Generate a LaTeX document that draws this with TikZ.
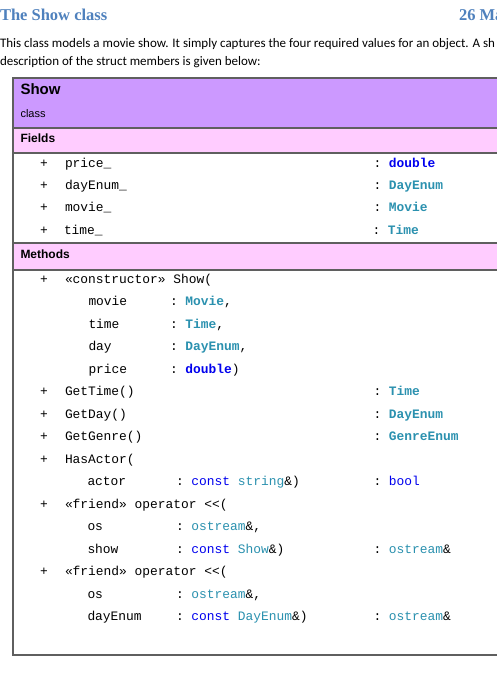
\documentclass[tikz,border=0pt]{standalone}
\usepackage{fontspec}
\setmainfont{Carlito}
\newfontfamily\headfont{Liberation Serif}
\newfontfamily\umlfont{Liberation Sans}
\setmonofont{Liberation Mono}
\definecolor{headblue}{RGB}{79,129,189}
\definecolor{classpurple}{RGB}{204,153,255}
\definecolor{bandpink}{RGB}{255,204,255}
\definecolor{framegray}{RGB}{95,95,95}
\definecolor{kwblue}{RGB}{0,0,238}
\definecolor{typeteal}{RGB}{43,145,175}
\tikzset{
  txt/.style={anchor=base west, inner sep=0pt, outer sep=0pt},
  heading/.style={txt, font=\headfont\bfseries\fontsize{16.5}{19}\selectfont, text=headblue},
  bodytext/.style={txt, font=\fontsize{13}{15}\selectfont},
  classname/.style={txt, font=\umlfont\bfseries\fontsize{15}{18}\selectfont},
  classkind/.style={txt, font=\umlfont\fontsize{11}{13}\selectfont},
  bandtitle/.style={txt, font=\umlfont\bfseries\fontsize{12}{14}\selectfont},
  code/.style={txt, font=\ttfamily\fontsize{12.9}{15}\selectfont},
  frame/.style={draw=framegray, line width=1.5pt}
}
\newcommand{\kw}[1]{\textcolor{kwblue}{#1}}
\newcommand{\ty}[1]{\textcolor{typeteal}{#1}}

\begin{document}
\begin{tikzpicture}[x=1pt, y=-1pt]
  \clip (0,0) rectangle (497,689);
  \fill[white] (0,0) rectangle (497,689);

  % page heading and intro text
  \node[heading] (title) at (0,20) {The Show class};
  \node[heading] (date) at (459,20) {26 Ma};
  \node[bodytext] (intro1) at (0,47) {This class models a movie show. It simply captures the four required values for an object. A sh};
  \node[bodytext] (intro2) at (0,65.5) {description of the struct members is given below:};

  % class box
  \fill[classpurple] (13,78) rectangle (520,128);
  \fill[bandpink] (13,128) rectangle (520,153);
  \fill[bandpink] (13,243) rectangle (520,270);
  \draw[frame] (13,128) -- (520,128);
  \draw[frame] (13,153) -- (520,153);
  \draw[frame] (13,243) -- (520,243);
  \draw[frame] (13,270) -- (520,270);
  \draw[frame] (13,78) rectangle (520,655);

  \node[classname] (show) at (20.5,94) {Show};
  \node[classkind] (kind) at (20.5,117.5) {class};
  \node[bandtitle] (fields) at (20.5,142.5) {Fields};
  \node[bandtitle] (methods) at (20.5,258.5) {Methods};

  % fields
  \node[code] (f1p) at (40,167) {+};
  \node[code] (f1n) at (65,167) {price\_};
  \node[code] (f1t) at (373.5,167) {: \kw{\bfseries double}};
  \node[code] (f2p) at (40,189.4) {+};
  \node[code] (f2n) at (65,189.4) {dayEnum\_};
  \node[code] (f2t) at (373.5,189.4) {: \ty{\bfseries DayEnum}};
  \node[code] (f3p) at (40,211.8) {+};
  \node[code] (f3n) at (65,211.8) {movie\_};
  \node[code] (f3t) at (373.5,211.8) {: \ty{\bfseries Movie}};
  \node[code] (f4p) at (40,234.2) {+};
  \node[code] (f4n) at (64,234.2) {time\_};
  \node[code] (f4t) at (372.5,234.2) {: \ty{\bfseries Time}};

  % constructor
  \node[code] (m1p) at (40,283) {+};
  \node[code] (m1n) at (65,283) {«constructor» Show(};
  \node[code] (c1n) at (88.5,305.5) {movie};
  \node[code] (c1t) at (170,305.5) {: \ty{\bfseries Movie},};
  \node[code] (c2n) at (88.5,328) {time};
  \node[code] (c2t) at (170,328) {: \ty{\bfseries Time},};
  \node[code] (c3n) at (88.5,350.5) {day};
  \node[code] (c3t) at (170,350.5) {: \ty{\bfseries DayEnum},};
  \node[code] (c4n) at (88.5,373) {price};
  \node[code] (c4t) at (170,373) {: \kw{\bfseries double})};

  % getters
  \node[code] (m2p) at (40,395.5) {+};
  \node[code] (m2n) at (65,395.5) {GetTime()};
  \node[code] (m2t) at (373.5,395.5) {: \ty{\bfseries Time}};
  \node[code] (m3p) at (40,418) {+};
  \node[code] (m3n) at (65,418) {GetDay()};
  \node[code] (m3t) at (373.5,418) {: \ty{\bfseries DayEnum}};
  \node[code] (m4p) at (40,440.5) {+};
  \node[code] (m4n) at (65,440.5) {GetGenre()};
  \node[code] (m4t) at (373.5,440.5) {: \ty{\bfseries GenreEnum}};
  \node[code] (m5p) at (40,463) {+};
  \node[code] (m5n) at (65,463) {HasActor(};
  \node[code] (h1n) at (87.5,485.5) {actor};
  \node[code] (h1t) at (176,485.5) {: \kw{const} \ty{string}\&)};
  \node[code] (m5t) at (373.5,485.5) {: \kw{bool}};

  % stream operators
  \node[code] (m6p) at (40,508) {+};
  \node[code] (m6n) at (65,508) {«friend» operator <<(};
  \node[code] (o1n) at (87.5,530.5) {os};
  \node[code] (o1t) at (176,530.5) {: \ty{ostream}\&,};
  \node[code] (o2n) at (87.5,553) {show};
  \node[code] (o2t) at (176,553) {: \kw{const} \ty{Show}\&)};
  \node[code] (m6t) at (373.5,553) {: \ty{ostream}\&};
  \node[code] (m7p) at (40,575.5) {+};
  \node[code] (m7n) at (65,575.5) {«friend» operator <<(};
  \node[code] (p1n) at (87.5,598) {os};
  \node[code] (p1t) at (176,598) {: \ty{ostream}\&,};
  \node[code] (p2n) at (87.5,620.5) {dayEnum};
  \node[code] (p2t) at (176,620.5) {: \kw{const} \ty{DayEnum}\&)};
  \node[code] (m7t) at (373.5,620.5) {: \ty{ostream}\&};
\end{tikzpicture}
\end{document}
